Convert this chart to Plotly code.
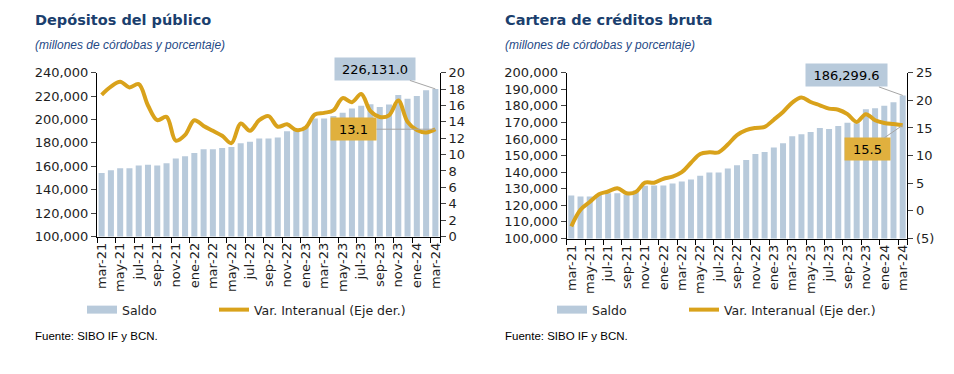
import plotly.graph_objects as go

# ---------------- data ----------------
months = ["mar-21", "abr-21", "may-21", "jun-21", "jul-21", "ago-21", "sep-21", "oct-21",
          "nov-21", "dic-21", "ene-22", "feb-22", "mar-22", "abr-22", "may-22", "jun-22",
          "jul-22", "ago-22", "sep-22", "oct-22", "nov-22", "dic-22", "ene-23", "feb-23",
          "mar-23", "abr-23", "may-23", "jun-23", "jul-23", "ago-23", "sep-23", "oct-23",
          "nov-23", "dic-23", "ene-24", "feb-24", "mar-24"]

dep_saldo = [154300, 156600, 158300, 158300, 160600, 161400, 160600, 162600, 166600, 168600,
             171400, 174600, 174600, 175700, 176600, 179700, 180900, 183700, 183700, 184600,
             190000, 190900, 193700, 200900, 200900, 202900, 205700, 209400, 211700, 213100,
             210600, 212900, 220900, 217700, 220000, 224900, 226131.0]
dep_var = [17.3, 18.3, 18.9, 18.2, 18.6, 16.0, 14.2, 14.6, 11.7, 12.4, 14.2, 13.5, 12.9, 12.3,
           11.4, 13.8, 12.9, 14.2, 14.7, 13.4, 13.7, 13.0, 13.3, 14.9, 15.1, 15.4, 16.9, 16.4,
           17.4, 15.3, 14.6, 14.8, 16.6, 14.0, 13.0, 12.7, 13.1]

crd_saldo = [126000, 125400, 125400, 126600, 127300, 127300, 126600, 129000, 131800, 132000,
             132000, 133200, 134400, 135600, 137900, 139800, 139800, 142200, 144200, 147300,
             150900, 152100, 154900, 157500, 161700, 162900, 164300, 166600, 166000, 167800,
             169800, 169500, 178000, 178600, 180000, 182200, 186299.6]
crd_var = [-2.8, 0.2, 1.6, 3.0, 3.5, 4.1, 3.2, 3.4, 5.1, 5.1, 5.8, 6.2, 7.0, 8.7, 10.3, 10.6,
           10.6, 12.0, 13.7, 14.6, 15.0, 15.2, 16.5, 17.9, 19.6, 20.5, 19.7, 19.1, 18.5, 18.3,
           17.5, 16.1, 17.5, 16.4, 15.9, 15.7, 15.5]

tick_labels = months[::2]
right_ticks_crd = [-5, 0, 5, 10, 15, 20, 25]
right_ticktext_crd = ["(5)", "0", "5", "10", "15", "20", "25"]

# ---------------- style ----------------
W, H = 954, 374
BAR = "#B8CADB"
LINE = "#D9A21B"
GOLD = "#E0B03E"
TXT = "#1e1e1e"
TFONT = "DejaVu Sans"
idx = list(range(len(months)))
lab_pos = idx[::2]
bound_pos = [p - 0.5 for p in lab_pos] + [idx[-1] + 0.5]


def px(x):
    return x / W


def py(y):
    return 1 - y / H


fig = go.Figure()

# left chart
fig.add_trace(go.Bar(x=idx, y=dep_saldo, marker=dict(color=BAR, line=dict(width=0)),
                     width=0.65, xaxis="x", yaxis="y", showlegend=False, name="Saldo"))
fig.add_trace(go.Scatter(x=idx, y=dep_var, mode="lines", line=dict(color=LINE, width=4, shape="spline", smoothing=1),
                         xaxis="x", yaxis="y2", showlegend=False, name="Var. Interanual (Eje der.)"))
fig.add_trace(go.Scatter(x=[None], y=[None], mode="lines", line=dict(color=BAR, width=8),
                         xaxis="x", yaxis="y", name="Saldo", legend="legend", legendwidth=87))
fig.add_trace(go.Scatter(x=[None], y=[None], mode="lines", line=dict(color=LINE, width=4),
                         xaxis="x", yaxis="y2", name="Var. Interanual (Eje der.)", legend="legend",
                         legendwidth=180))

# right chart
fig.add_trace(go.Bar(x=idx, y=crd_saldo, marker=dict(color=BAR, line=dict(width=0)),
                     width=0.65, xaxis="x2", yaxis="y3", showlegend=False, name="Saldo"))
fig.add_trace(go.Scatter(x=idx, y=crd_var, mode="lines", line=dict(color=LINE, width=4, shape="spline", smoothing=1),
                         xaxis="x2", yaxis="y4", showlegend=False, name="Var. Interanual (Eje der.)"))
fig.add_trace(go.Scatter(x=[None], y=[None], mode="lines", line=dict(color=BAR, width=8),
                         xaxis="x2", yaxis="y3", name="Saldo", legend="legend2", legendwidth=87))
fig.add_trace(go.Scatter(x=[None], y=[None], mode="lines", line=dict(color=LINE, width=4),
                         xaxis="x2", yaxis="y4", name="Var. Interanual (Eje der.)", legend="legend2",
                         legendwidth=180))

axis_common = dict(showline=True, linecolor="black", linewidth=1, showgrid=False, zeroline=False,
                   tickfont=dict(family=TFONT, size=13, color=TXT), automargin=False)
xcommon = dict(axis_common, range=[-0.5, idx[-1] + 0.5], tickmode="array", tickvals=lab_pos,
               ticktext=tick_labels, tickangle=-90, ticks="",
               minor=dict(tickmode="array", tickvals=bound_pos, ticks="outside", ticklen=5,
                          tickcolor="black", tickwidth=1))

fig.update_layout(
    width=W, height=H, margin=dict(l=0, r=0, t=0, b=0),
    paper_bgcolor="white", plot_bgcolor="white",
    barmode="overlay",
    xaxis=dict(xcommon, domain=[px(97), px(440)], anchor="y"),
    yaxis=dict(axis_common, domain=[py(236.5), py(72.7)], range=[100000, 240000], dtick=20000,
               tickformat=",d", ticks="outside", ticklen=5, anchor="x"),
    yaxis2=dict(axis_common, overlaying="y", side="right", range=[0, 20], dtick=2,
                ticks="outside", ticklen=5, anchor="x"),
    xaxis2=dict(xcommon, domain=[px(566.7), px(907.3)], anchor="y3"),
    yaxis3=dict(axis_common, domain=[py(238.5), py(72.7)], range=[100000, 200000], dtick=10000,
                tickformat=",d", ticks="outside", ticklen=5, anchor="x2"),
    yaxis4=dict(axis_common, overlaying="y3", side="right", range=[-5, 25], tickmode="array",
                tickvals=right_ticks_crd, ticktext=right_ticktext_crd,
                ticks="outside", ticklen=5, anchor="x2"),
    legend=dict(orientation="h", x=px(82), y=py(310), xanchor="left", yanchor="middle",
                font=dict(family=TFONT, size=12.5, color=TXT), bgcolor="rgba(0,0,0,0)"),
    legend2=dict(orientation="h", x=px(552), y=py(310), xanchor="left", yanchor="middle",
                 font=dict(family=TFONT, size=12.5, color=TXT), bgcolor="rgba(0,0,0,0)"),
)

ann = []
# titles
for x0, title in [(33, "Depósitos del público"), (503, "Cartera de créditos bruta")]:
    ann.append(dict(text="<b>" + title + "</b>", x=px(x0), y=py(20), xref="paper", yref="paper",
                    xanchor="left", yanchor="middle", showarrow=False,
                    font=dict(family=TFONT, size=14.5, color="#1B3F6E")))
    ann.append(dict(text="<i>(millones de córdobas y porcentaje)</i>", x=px(x0), y=py(45),
                    xref="paper", yref="paper", xanchor="left", yanchor="middle", showarrow=False,
                    font=dict(family="Liberation Sans", size=12, color="#1F4A86")))
    ann.append(dict(text="Fuente: SIBO IF y BCN.", x=px(x0), y=py(336), xref="paper", yref="paper",
                    xanchor="left", yanchor="middle", showarrow=False,
                    font=dict(family="Liberation Sans", size=11.5, color="black")))

lab_common = dict(showarrow=True, arrowhead=0, arrowwidth=1, arrowcolor="#A6A6A6", standoff=0,
                  font=dict(family=TFONT, size=13, color="black"), height=20)
ann.append(dict(lab_common, text=f"{dep_saldo[-1]:,.1f}", x=idx[-1], y=dep_saldo[-1], xref="x", yref="y",
                ax=-60, ay=-20, width=78, bgcolor=BAR))
ann.append(dict(lab_common, text=f"{dep_var[-1]:.1f}", x=idx[-1], y=dep_var[-1], xref="x", yref="y2",
                ax=-82, ay=0, width=43, bgcolor=GOLD))
ann.append(dict(lab_common, text=f"{crd_saldo[-1]:,.1f}", x=idx[-1], y=crd_saldo[-1], xref="x2", yref="y3",
                ax=-56, ay=-20, width=79, bgcolor=BAR))
ann.append(dict(lab_common, text=f"{crd_var[-1]:.1f}", x=idx[-1], y=crd_var[-1], xref="x2", yref="y4",
                ax=-35, ay=24, width=43, bgcolor=GOLD))
fig.update_layout(annotations=ann)

fig.write_html("out.html", config={"displayModeBar": False})

# remove the default browser body margin so the figure sits at the page origin
with open("out.html", encoding="utf-8") as f:
    html = f.read()
html = html.replace("<body>", '<body style="margin:0;padding:0">', 1)
with open("out.html", "w", encoding="utf-8") as f:
    f.write(html)
